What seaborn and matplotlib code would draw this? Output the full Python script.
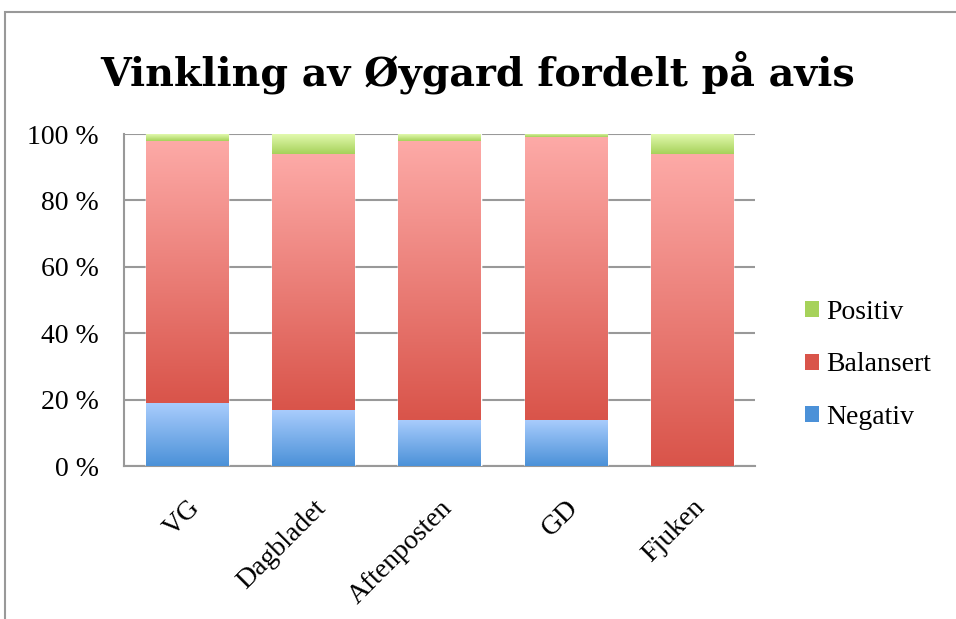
import numpy as np
import pandas as pd
import matplotlib
matplotlib.use("Agg")
import matplotlib.pyplot as plt
from matplotlib.colors import LinearSegmentedColormap
from matplotlib.patches import Rectangle, Patch
import seaborn as sns

# ----------------------------------------
# Data (percent per newspaper)
# ----------------------------------------
aviser = ["VG", "Dagbladet", "Aftenposten", "GD", "Fjuken"]
negativ = [19, 17, 14, 14, 0]
balansert = [79, 77, 84, 85, 94]
positiv = [2, 6, 2, 1, 6]
serie_navn = ["Positiv", "Balansert", "Negativ"]
y_ticks = [0, 20, 40, 60, 80, 100]

df = pd.DataFrame({"avis": aviser, "Negativ": negativ,
                   "Balansert": balansert, "Positiv": positiv})
df["cum_neg"] = df["Negativ"]
df["cum_bal"] = df["Negativ"] + df["Balansert"]
df["cum_pos"] = df["cum_bal"] + df["Positiv"]

# gradient colours (top, bottom)
grad = {
    "Positiv": ("#e2f9ae", "#a6d25a"),
    "Balansert": ("#fdaaa7", "#d9544a"),
    "Negativ": ("#aacdfd", "#4b91d8"),
}

sns.set_theme(style="white")
plt.rcParams["font.family"] = ["Liberation Serif", "DejaVu Serif"]
plt.rcParams["text.color"] = "black"
plt.rcParams["xtick.color"] = "black"
plt.rcParams["ytick.color"] = "black"

fig = plt.figure(figsize=(9.56, 6.19), dpi=100)
ax = fig.add_axes([124 / 956, 1 - 466 / 619, (755 - 124) / 956, (466 - 134) / 619])

# ----------------------------------------
# Stacked bars (drawn as cumulative layers)
# ----------------------------------------
layers = [("Positiv", "cum_pos", "cum_bal"),
          ("Balansert", "cum_bal", "cum_neg"),
          ("Negativ", "cum_neg", None)]

for navn, top_col, bot_col in layers:
    n_before = len(ax.patches)
    sns.barplot(data=df, x="avis", y=top_col, color=grad[navn][1],
                width=0.65, ax=ax, saturation=1, zorder=3)
    new = ax.patches[n_before:]
    cmap = LinearSegmentedColormap.from_list(navn, [grad[navn][1], grad[navn][0]])
    for i, p in enumerate(new):
        top = df[top_col].iloc[i]
        bot = df[bot_col].iloc[i] if bot_col else 0
        if top - bot <= 0:
            continue
        x0 = p.get_x()
        w = p.get_width()
        g = np.linspace(0, 1, 256).reshape(-1, 1)
        im = ax.imshow(g, cmap=cmap, origin="lower", aspect="auto",
                       extent=(x0, x0 + w, bot, top), zorder=4)
        clip = Rectangle((x0, bot), w, top - bot, transform=ax.transData)
        im.set_clip_path(clip)

ax.set_xlim(-0.5, 4.5)
ax.set_ylim(0, 100)
ax.set_yticks(y_ticks)
ax.set_yticklabels([f"{v} %" for v in y_ticks], fontsize=20)
ax.set_xticks(range(len(aviser)))
ax.set_xticklabels(aviser, fontsize=20, rotation=45, ha="right",
                   rotation_mode="anchor")
ax.set_xlabel("")
ax.set_ylabel("")
ax.tick_params(axis="y", length=5, color="#999999", width=1.5, pad=13)
ax.tick_params(axis="x", length=0, pad=21)

ax.yaxis.grid(True, color="#999999", linewidth=1.5, zorder=0)
ax.set_axisbelow(True)
for s in ["top", "right"]:
    ax.spines[s].set_visible(False)
for s in ["left", "bottom"]:
    ax.spines[s].set_color("#999999")
    ax.spines[s].set_linewidth(1.5)

# ----------------------------------------
# Legend
# ----------------------------------------
handles = [Patch(facecolor=grad[n][1], edgecolor="none") for n in serie_navn]
fig.legend(handles, serie_navn, loc="center left",
           bbox_to_anchor=(780 / 956, 1 - 365 / 619), frameon=False,
           fontsize=20, handlelength=0.5, handleheight=0.5,
           labelspacing=0.98, handletextpad=0.25)

# Title
fig.text(0.5, 1 - 72 / 619, "Vinkling av Øygard fordelt på avis",
         ha="center", va="center", fontsize=28.5, fontweight="bold",
         family="DejaVu Serif")

# chart area frame
fig.patches.append(Rectangle((5 / 956, -0.1), 1.2, 1 - 12 / 619 + 0.1,
                             transform=fig.transFigure, fill=False,
                             edgecolor="#999999", linewidth=1.5))

fig.savefig("out.png", dpi=100)
